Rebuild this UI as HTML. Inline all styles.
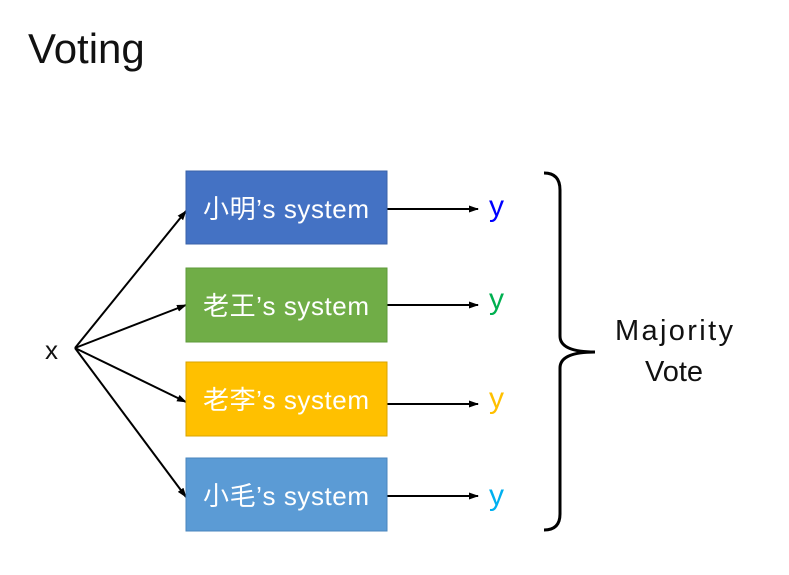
<!DOCTYPE html>
<html><head><meta charset="utf-8"><style>
body{margin:0;width:789px;height:570px;background:#fff;overflow:hidden}
</style></head><body>
<svg width="789" height="570" xmlns="http://www.w3.org/2000/svg" font-family="Liberation Sans, Noto Sans CJK SC, sans-serif">
<defs><marker id="a" markerWidth="10" markerHeight="10" refX="9" refY="5" orient="auto" markerUnits="userSpaceOnUse"><path d="M0,1.5 L10,5 L0,8.5 z" fill="#000"/></marker></defs>
<text x="28" y="63" font-size="42" fill="#111">Voting</text>
<text x="45" y="359" font-size="26" fill="#111">x</text>
<g stroke="#000" stroke-width="2" marker-end="url(#a)">
<line x1="75" y1="348" x2="186" y2="211"/>
<line x1="75" y1="348" x2="186" y2="305"/>
<line x1="75" y1="348" x2="186" y2="402"/>
<line x1="75" y1="348" x2="186" y2="497"/>
<line x1="387" y1="209" x2="478" y2="209"/>
<line x1="387" y1="305" x2="478" y2="305"/>
<line x1="387" y1="404" x2="478" y2="404"/>
<line x1="387" y1="496" x2="478" y2="496"/>
</g>
<g stroke-width="1">
<rect x="186" y="171" width="201" height="73" fill="#4472c4" stroke="#3a62a8"/>
<rect x="186" y="268" width="201" height="74" fill="#70ad47" stroke="#5e9a3a"/>
<rect x="186" y="362" width="201" height="74" fill="#ffc000" stroke="#d9a300"/>
<rect x="186" y="458" width="201" height="73" fill="#5b9bd5" stroke="#4a86bd"/>
</g>
<g fill="#fff" font-size="26" text-anchor="middle">
<text x="286" y="218" textLength="166">小明’s system</text>
<text x="286" y="315" textLength="166">老王’s system</text>
<text x="286" y="409" textLength="166">老李’s system</text>
<text x="286" y="505" textLength="166">小毛’s system</text>
</g>
<g font-size="30">
<text x="489" y="216" fill="#0000ff">y</text>
<text x="489" y="309" fill="#00b050">y</text>
<text x="489" y="408" fill="#ffc000">y</text>
<text x="489" y="505" fill="#00b0f0">y</text>
</g>
<path d="M544,173 Q560,173 560,190 L560,336 Q560,352 595,352 Q560,352 560,368 L560,514 Q560,530 544,530" fill="none" stroke="#000" stroke-width="3"/>
<g font-size="29" text-anchor="middle" fill="#111">
<text x="674" y="340" textLength="118">Majority</text>
<text x="674" y="381">Vote</text>
</g>
</svg>
</body></html>
